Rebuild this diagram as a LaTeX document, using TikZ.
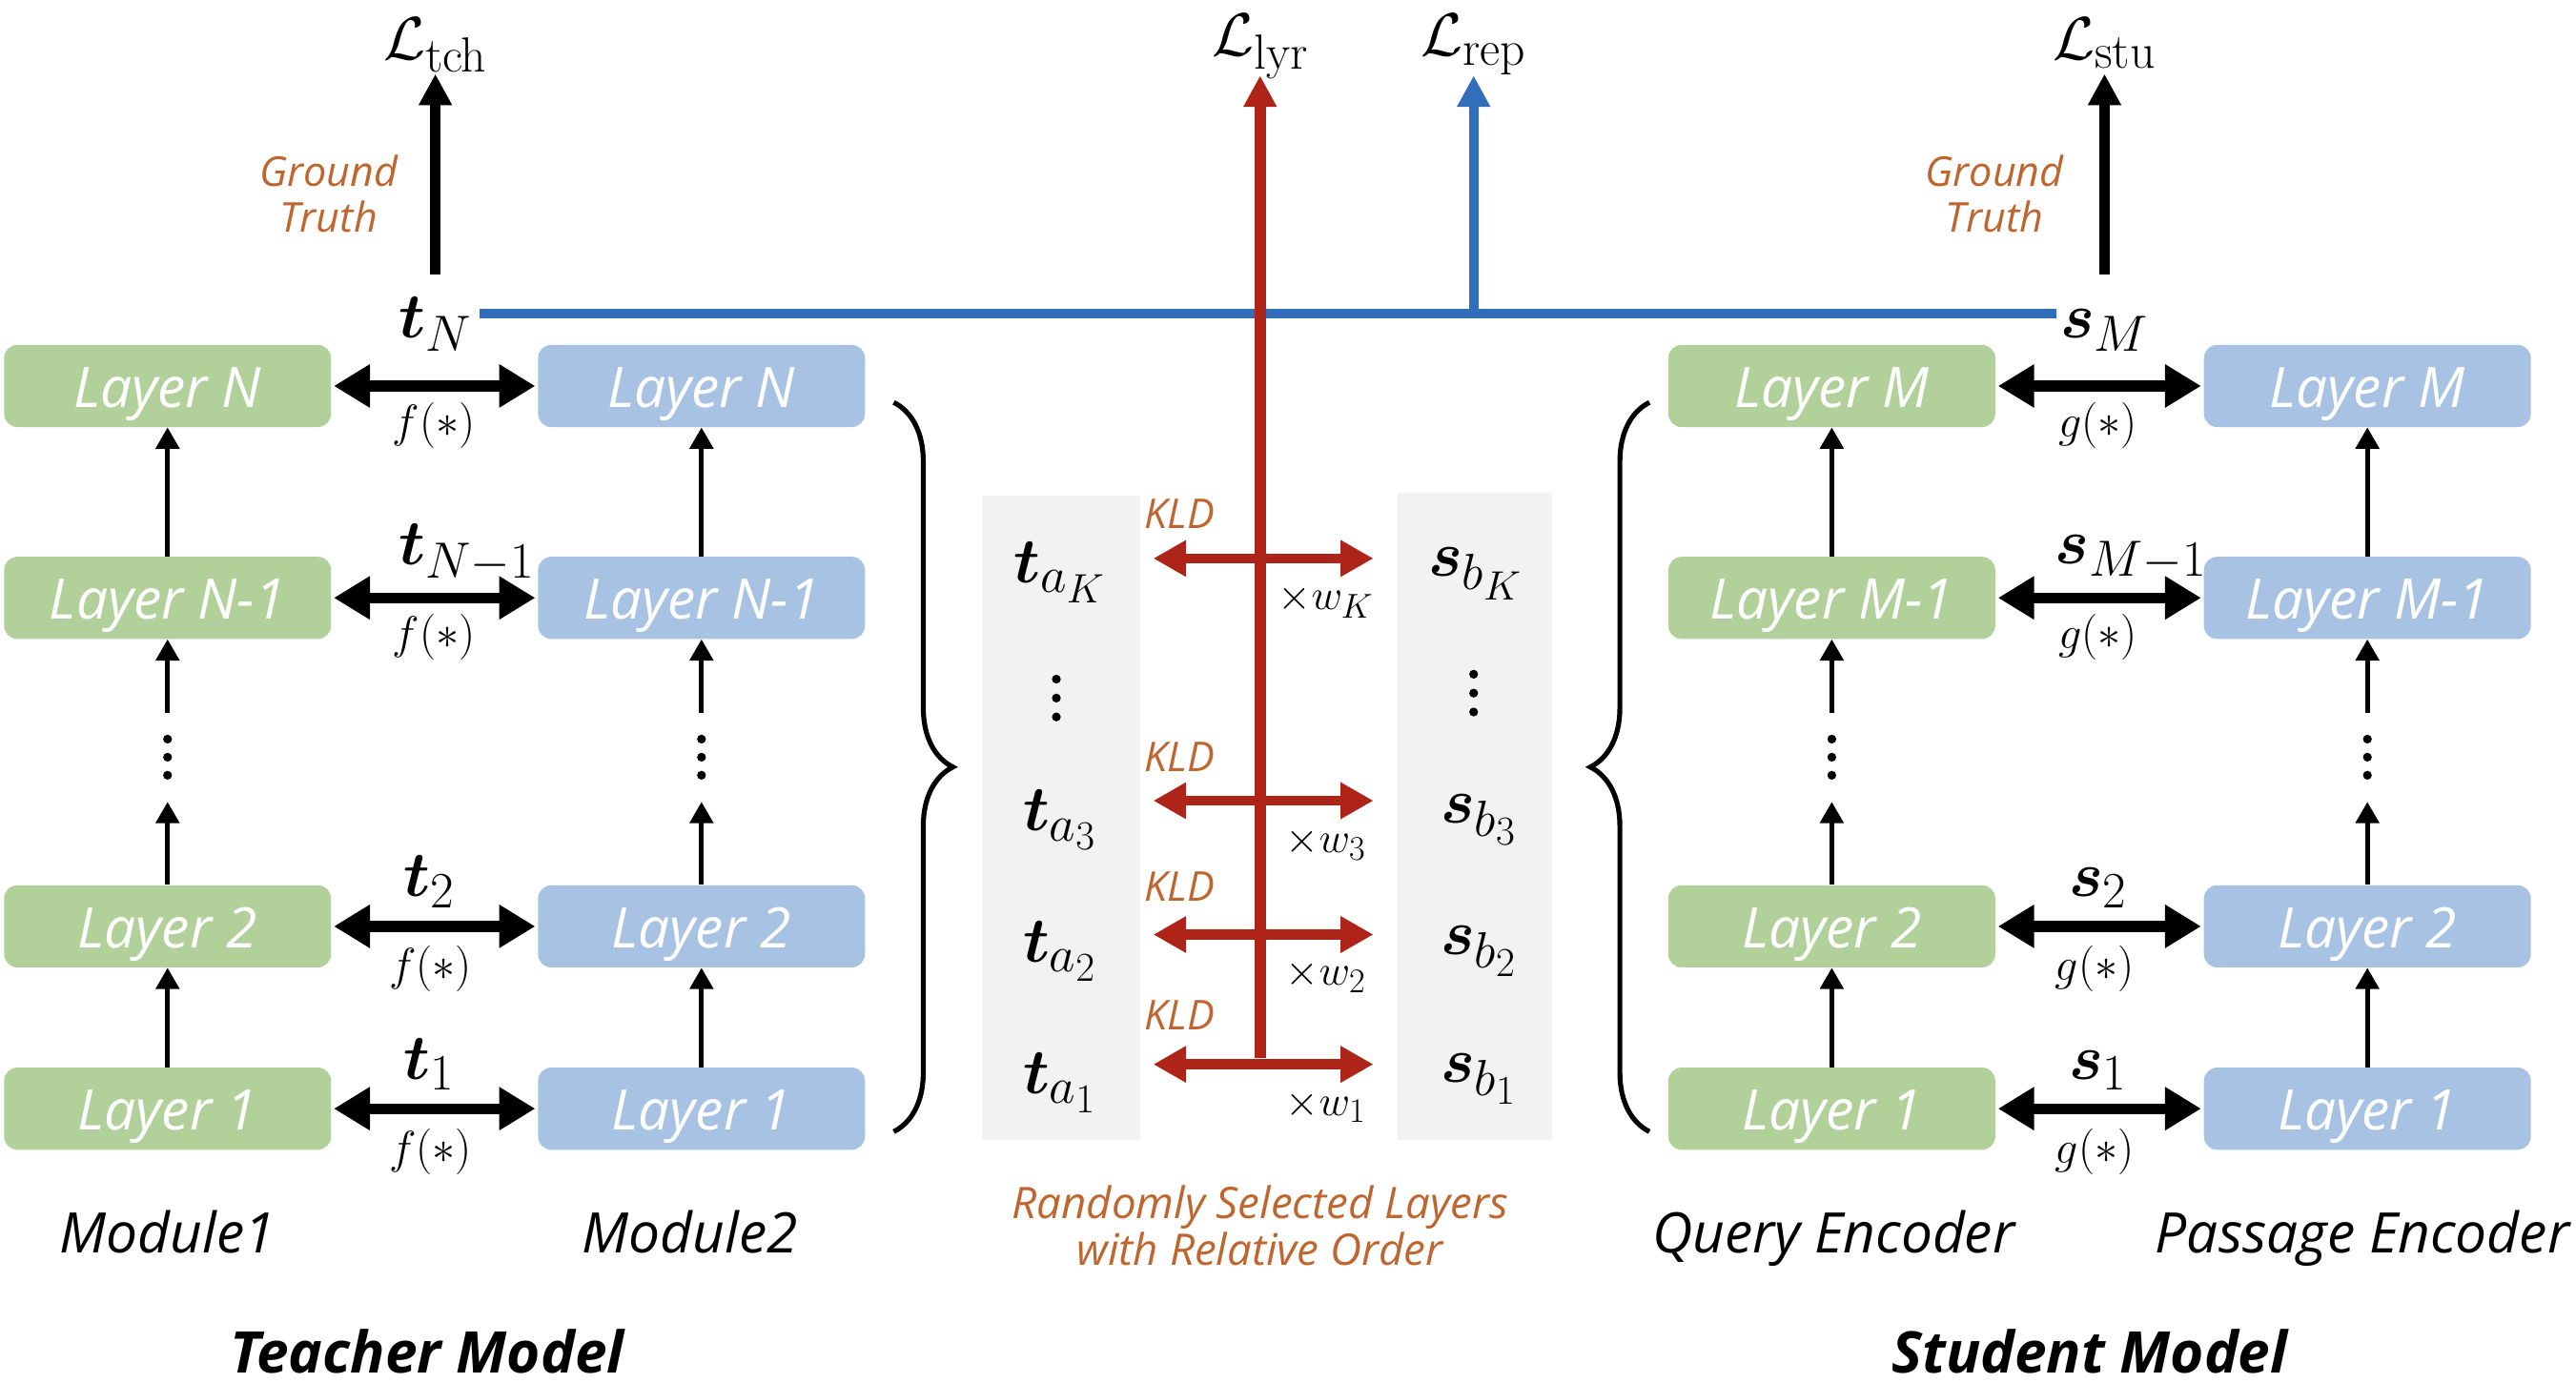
\documentclass[tikz,border=0pt]{standalone}
\usepackage{fix-cm}
\usepackage{amsmath,bm}
\usepackage[no-math]{fontspec}
\setsansfont{Open Sans}
\usetikzlibrary{arrows.meta,decorations.pathreplacing}
\DeclareMathSizes{39}{39}{31}{25}
\DeclareMathSizes{37}{37}{30}{24}
\DeclareMathSizes{28}{28}{21}{16}
\DeclareMathSizes{26}{26}{21}{16}
\definecolor{gfill}{HTML}{B2D19A}
\definecolor{bfill}{HTML}{A7C2E3}
\definecolor{orng}{HTML}{BF6630}
\definecolor{rline}{HTML}{AE2418}
\definecolor{bline}{HTML}{326EBA}
\definecolor{panelgray}{HTML}{F2F2F2}
\newcommand{\fsz}[1]{\fontsize{#1}{#1}\selectfont}
\tikzset{
  lay/.style={rounded corners=8pt, minimum width=199pt, minimum height=50pt, inner sep=0pt,
     text height=30pt, text depth=4pt,
     text=white, font=\sffamily\itshape\fsz{34}},
  gbox/.style={lay, fill=gfill},
  bbox/.style={lay, fill=bfill},
  dbl/.style={line width=6.5pt, {Triangle[length=22pt,width=25pt]}-{Triangle[length=22pt,width=25pt]}},
  uparr/.style={line width=3pt, -{Triangle[length=13pt,width=14pt]}},
  gtarr/.style={line width=6pt, -{Triangle[length=19pt,width=19pt]}},
  redarr/.style={rline, line width=6pt, {Triangle[length=20pt,width=21pt]}-{Triangle[length=20pt,width=21pt]}},
  redup/.style={rline, line width=7pt, -{Triangle[length=19pt,width=19pt]}},
  blueup/.style={bline, line width=6pt, -{Triangle[length=19pt,width=19pt]}},
  bluel/.style={bline, line width=6pt},
  mlab/.style={inner sep=0pt, anchor=base, font=\fsz{39}},
  flab/.style={inner sep=0pt, anchor=base, font=\fsz{28}},
  llab/.style={inner sep=0pt, anchor=base, font=\fsz{37}},
  wlab/.style={inner sep=0pt, anchor=base, font=\fsz{26}},
  kld/.style={inner sep=0pt, text=orng, font=\sffamily\itshape\fsz{25}},
  gtext/.style={inner sep=0pt, text=orng, align=center, font=\sffamily\itshape\fsz{25}},
  modlab/.style={inner sep=0pt, anchor=base, font=\sffamily\itshape\fsz{34}},
  bigl/.style={inner sep=0pt, anchor=base, font=\sffamily\bfseries\itshape\fsz{35}},
  dotcol/.style={inner sep=0pt, minimum width=6pt, minimum height=54pt},
  panel/.style={fill=panelgray, inner sep=0pt},
  brc/.style={line width=3pt, decorate, decoration={brace, amplitude=36pt}},
}
\begin{document}
\begin{tikzpicture}[x=1pt, y=-1pt]
\useasboundingbox (0,0) rectangle (1568,842);
% ---- gray panels
\node[panel, minimum width=96pt, minimum height=392pt] (pl) at (646,498) {};
\node[panel, minimum width=94pt, minimum height=394pt] (pr) at (898,497) {};
% ---- boxes
\foreach \nm/\xx/\cl in {g/102/gbox, b/427/bbox}{
  \node[\cl] (\nm N)  at (\xx,235) {Layer N};
  \node[\cl] (\nm N1) at (\xx,364) {Layer N-1};
  \node[\cl] (\nm 2)  at (\xx,564) {Layer 2};
  \node[\cl] (\nm 1)  at (\xx,675) {Layer 1};
  \node[dotcol] (\nm d) at (\xx,461) {};
}
\foreach \nm/\xx/\cl in {q/1115/gbox, p/1441/bbox}{
  \node[\cl] (\nm N)  at (\xx,235) {Layer M};
  \node[\cl] (\nm N1) at (\xx,364) {Layer M-1};
  \node[\cl] (\nm 2)  at (\xx,564) {Layer 2};
  \node[\cl] (\nm 1)  at (\xx,675) {Layer 1};
  \node[dotcol] (\nm d) at (\xx,461) {};
}
\foreach \nm in {g,b,q,p}{
  \draw[uparr] (\nm N1.north) -- (\nm N.south);
  \draw[uparr] (\nm d.north) -- (\nm N1.south);
  \draw[uparr] (\nm 2.north) -- (\nm d.south);
  \draw[uparr] (\nm 1.north) -- (\nm 2.south);
  \foreach \dy in {-11,0,11} \fill ([yshift=\dy pt]\nm d.center) circle (2.7pt);
}
% ---- horizontal double arrows
\foreach \r in {N,N1,2,1}{
  \draw[dbl, shorten <=1.5pt, shorten >=1.5pt] (g\r.east) -- (b\r.west);
  \draw[dbl, shorten <=1.5pt, shorten >=1.5pt] (q\r.east) -- (p\r.west);
}
% ---- t / s labels
\node[mlab] (tN)  at (265,206) {$\bm{t}_{N}$};
\node[mlab] (tN1) at (284,344) {$\bm{t}_{N-1}$};
\node[mlab] (t2)  at (261,546) {$\bm{t}_{2}$};
\node[mlab] (t1)  at (261,657) {$\bm{t}_{1}$};
\node[flab] (f1) at (264,266) {$f(*)$};
\node[flab] (f2) at (264,395) {$f(*)$};
\node[flab] (f3) at (262,597) {$f(*)$};
\node[flab] (f4) at (262,708) {$f(*)$};
\node[mlab] (sM)  at (1281,206) {$\bm{s}_{M}$};
\node[mlab] (sM1) at (1297,343) {$\bm{s}_{M-1}$};
\node[mlab] (s2)  at (1277,546) {$\bm{s}_{2}$};
\node[mlab] (s1)  at (1277,657) {$\bm{s}_{1}$};
\node[flab] (g1) at (1277,266) {$g(*)$};
\node[flab] (g2) at (1277,395) {$g(*)$};
\node[flab] (g3) at (1275,597) {$g(*)$};
\node[flab] (g4) at (1275,708) {$g(*)$};
% ---- losses and ground truth
\node[llab] (Ltch) at (265,36) {$\mathcal{L}_{\mathrm{tch}}$};
\node[llab] (Lstu) at (1281,36) {$\mathcal{L}_{\mathrm{stu}}$};
\node[llab] (Llyr) at (767,34) {$\mathcal{L}_{\mathrm{lyr}}$};
\node[llab] (Lrep) at (897,34) {$\mathcal{L}_{\mathrm{rep}}$};
\coordinate (gtl) at (265,167);
\coordinate (gtr) at (1281,167);
\coordinate (gtlt) at (265,45);
\coordinate (gtrt) at (1281,45);
\draw[gtarr] (gtl) -- (gtlt);
\draw[gtarr] (gtr) -- (gtrt);
\node[gtext] (gt1) at (200,118) {Ground\\[3pt]Truth};
\node[gtext] (gt2) at (1214,118) {Ground\\[3pt]Truth};
% ---- blue line
\coordinate (bl) at (292,191);
\coordinate (br) at (1252,191);
\coordinate (bm) at (897,191);
\coordinate (btop) at (897,46);
\coordinate (rtop) at (767,46);
\draw[bluel] (bl) -- (br);
\draw[blueup] ([yshift=3pt]bm) -- (btop);
% ---- red
\coordinate (rbot) at (767,644);
\draw[redup] (rbot) -- (rtop);
\foreach \nm/\yy in {K/340,c/487.5,b/569,a/648}{
  \coordinate (kl\nm) at (702,\yy);
  \coordinate (kr\nm) at (836,\yy);
  \draw[redarr] (kl\nm) -- (kr\nm);
}
\node[kld] (kd1) at (718,313) {KLD};
\node[kld] (kd2) at (718,461) {KLD};
\node[kld] (kd3) at (718,540) {KLD};
\node[kld] (kd4) at (718,618) {KLD};
\node[wlab] (w1) at (807,371) {$\times w_K$};
\node[wlab] (w2) at (807,519) {$\times w_3$};
\node[wlab] (w3) at (807,600) {$\times w_2$};
\node[wlab] (w4) at (807,679) {$\times w_1$};
% ---- selected layers
\node[mlab] (taK) at (645,355) {$\bm{t}_{a_K}$};
\node[mlab] (ta3) at (645,506) {$\bm{t}_{a_3}$};
\node[mlab] (ta2) at (645,586) {$\bm{t}_{a_2}$};
\node[mlab] (ta1) at (645,666) {$\bm{t}_{a_1}$};
\node[mlab] (sbK) at (898,351) {$\bm{s}_{b_K}$};
\node[mlab] (sb3) at (900,501) {$\bm{s}_{b_3}$};
\node[mlab] (sb2) at (900,581) {$\bm{s}_{b_2}$};
\node[mlab] (sb1) at (900,659) {$\bm{s}_{b_1}$};
\node[inner sep=0pt, minimum height=24pt] (tdots) at (643,425) {};
\node[inner sep=0pt, minimum height=24pt] (sdots) at (897,422) {};
\foreach \dy in {-11.5,0,11.5}{
  \fill ([yshift=\dy pt]tdots.center) circle (2.7pt);
  \fill ([yshift=\dy pt]sdots.center) circle (2.7pt);
}
% ---- braces
\coordinate (brL1) at (544,245);
\coordinate (brL2) at (544,689);
\coordinate (brR1) at (1004,689);
\coordinate (brR2) at (1004,245);
\draw[brc] (brL1) -- (brL2);
\draw[brc] (brR1) -- (brR2);
% ---- bottom labels
\node[modlab] (m1) at (102,763) {Module1};
\node[modlab] (m2) at (420,763) {Module2};
\node[modlab] (m3) at (1116,763) {Query Encoder};
\node[modlab] (m4) at (1438,763) {Passage Encoder};
\node[gtext, font=\sffamily\itshape\fsz{26.5}] (rsl) at (767,746) {Randomly Selected Layers\\[1pt]with Relative Order};
\node[bigl] (tm) at (260,836) {Teacher Model};
\node[bigl] (sm) at (1272,836) {Student Model};
\end{tikzpicture}
\end{document}
